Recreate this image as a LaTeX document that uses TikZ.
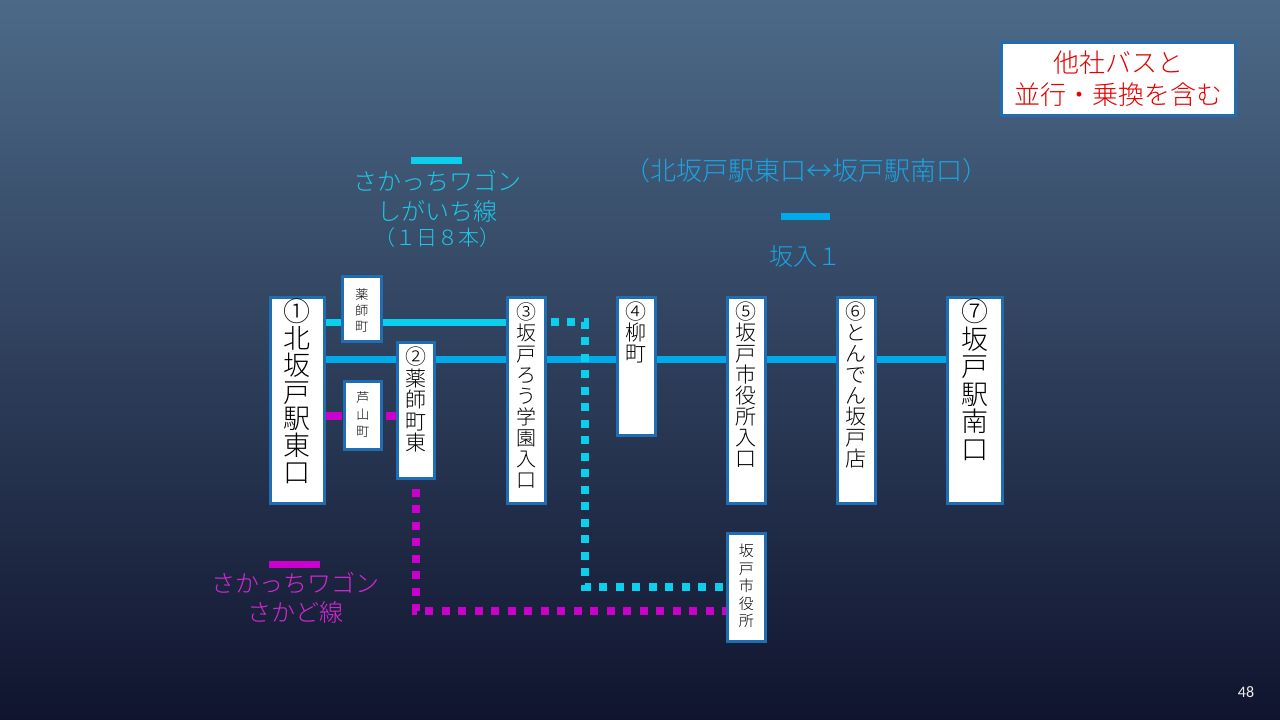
\documentclass[tikz,border=0pt]{standalone}
\usepackage{fontspec}
\setmainfont{Noto Sans CJK JP}[UprightFont={* Light}]
\newfontfamily\numfont{Carlito}
\usetikzlibrary{calc}
\definecolor{bgtop}{RGB}{76,106,136}
\definecolor{bgmid}{RGB}{44,62,92}
\definecolor{bgbot}{RGB}{16,20,46}
\definecolor{cyanl}{RGB}{10,208,238}
\definecolor{bluel}{RGB}{0,170,235}
\definecolor{magl}{RGB}{204,0,204}
\definecolor{boxblue}{RGB}{31,110,180}
\definecolor{redt}{RGB}{230,0,0}
\definecolor{cyant}{RGB}{30,200,230}
\definecolor{bluet}{RGB}{25,165,228}
\definecolor{magt}{RGB}{215,40,215}
\pgfdeclarelayer{bgl}\pgfdeclarelayer{lnl}\pgfsetlayers{bgl,lnl,main}
\begin{document}
\begin{tikzpicture}[x=1pt,y=-1pt,
  stbox/.style={draw=boxblue, line width=2.5pt, fill=white, anchor=north west, inner sep=0pt},
  vtxt/.style 2 args={anchor=north, inner sep=0pt, align=center, font=\fontsize{#1}{#2}\selectfont},
  cyanline/.style={draw=cyanl, line width=7pt},
  blueline/.style={draw=bluel, line width=7pt},
  magline/.style={draw=magl, line width=7pt},
  cyandot/.style={draw=cyanl, line width=8pt, dash pattern=on 8pt off 8.5pt},
  magdot/.style={draw=magl, line width=8pt, dash pattern=on 8pt off 8.5pt},
  lgtxt/.style={inner sep=0pt, font=\fontsize{24}{24}\selectfont}]
\useasboundingbox (0,0) rectangle (1280,720);
\begin{pgfonlayer}{bgl}
\shade[top color=bgtop, middle color=bgmid, bottom color=bgbot] (0,0) rectangle (1280,720);
\end{pgfonlayer}

% station boxes
\node[stbox, minimum width=54pt, minimum height=206pt] (s1) at (269,296) {};
\node[stbox, minimum width=39pt, minimum height=65pt] (yk) at (341,275) {};
\node[stbox, minimum width=37pt, minimum height=68pt] (as) at (343,380) {};
\node[stbox, minimum width=37pt, minimum height=136pt] (s2) at (396,341) {};
\node[stbox, minimum width=38pt, minimum height=206pt] (s3) at (506,296) {};
\node[stbox, minimum width=38pt, minimum height=138pt] (s4) at (616,296) {};
\node[stbox, minimum width=38pt, minimum height=206pt] (s5) at (726,296) {};
\node[stbox, minimum width=38pt, minimum height=206pt] (s6) at (836,296) {};
\node[stbox, minimum width=55pt, minimum height=206pt] (s7) at (946,296) {};
\node[stbox, minimum width=38pt, minimum height=108pt] (ks) at (726,532) {};

% station texts
\node[vtxt={27}{26.7}] (t1) at ([yshift=-3pt]s1.north) {①\\北\\坂\\戸\\駅\\東\\口};
\node[vtxt={13}{16}] (tyk) at ([yshift=-13pt]yk.north) {薬\\師\\町};
\node[vtxt={13}{17}] (tas) at ([yshift=-11pt]as.north) {芦\\山\\町};
\node[vtxt={21}{21.5}] (t2) at ([yshift=-6pt]s2.north) {②\\薬\\師\\町\\東};
\node[vtxt={20}{21}] (t3) at ([yshift=-6pt]s3.north) {③\\坂\\戸\\ろ\\う\\学\\園\\入\\口};
\node[vtxt={21}{21}] (t4) at ([yshift=-6pt]s4.north) {④\\柳\\町};
\node[vtxt={21}{21}] (t5) at ([yshift=-6pt]s5.north) {⑤\\坂\\戸\\市\\役\\所\\入\\口};
\node[vtxt={21}{21}] (t6) at ([yshift=-6pt]s6.north) {⑥\\と\\ん\\で\\ん\\坂\\戸\\店};
\node[vtxt={27}{27.5}] (t7) at ([yshift=-3pt]s7.north) {⑦\\坂\\戸\\駅\\南\\口};
\node[vtxt={15}{17.5}] (tks) at ([yshift=-12pt]ks.north) {坂\\戸\\市\\役\\所};

% route lines
\begin{pgfonlayer}{lnl}
\draw[cyanline] ($(s1.north east)+(0,26)$) -- ($(s3.north west)+(0,26)$);
\draw[blueline] ($(s1.north east)+(0,63)$) -- ($(s7.north west)+(0,63)$);
\draw[magdot, dash pattern=on 16pt off 4pt] ($(s1.north east)+(0,120)$) -- ($(s2.north west)+(0,75)$);
\coordinate (cc) at ($(ks.north west)+(-141,55)$);
\draw[cyandot] ($(s3.north east)+(4,26)$) -| (cc) -- ($(ks.north west)+(0,55)$);
\draw[magdot] ($(s2.south)+(0,9)$) |- ($(ks.north west)+(0,79)$);
\end{pgfonlayer}

% legend: shigaichi line
\coordinate (lc1) at (411,160);
\coordinate (lc2) at (462,160);
\draw[cyanline] (lc1) -- (lc2);
\node[lgtxt, text=cyant] (lct1) at (437,181) {さかっちワゴン};
\node[lgtxt, text=cyant] (lct2) at (437,211) {しがいち線};
\node[lgtxt, text=cyant, font=\fontsize{21}{21}\selectfont] (lct3) at (437,238) {（１日８本）};

% legend: sakairi 1
\node[lgtxt, text=bluet, font=\fontsize{26}{26}\selectfont] (lbt1) at (806,171) {（北坂戸駅東口↔坂戸駅南口）};
\coordinate (lb1) at (781,216);
\coordinate (lb2) at (830,216);
\draw[blueline] (lb1) -- (lb2);
\node[lgtxt, text=bluet] (lbt2) at (805,256) {坂入１};

% legend: sakado line
\coordinate (lm1) at (269,564);
\coordinate (lm2) at (320,564);
\draw[magline] (lm1) -- (lm2);
\node[lgtxt, text=magt] (lmt1) at (295,583) {さかっちワゴン};
\node[lgtxt, text=magt] (lmt2) at (295,612) {さかど線};

% note box
\node[stbox, minimum width=234pt, minimum height=73pt, text=redt, align=center,
      font=\fontsize{26}{32}\selectfont] (rb) at (1000,41) {他社バスと\\並行・乗換を含む};

% page number
\node[inner sep=0pt, text=white!85!gray, font=\numfont\fontsize{16}{16}\selectfont] (pg) at (1246,692) {48};
\end{tikzpicture}
\end{document}
